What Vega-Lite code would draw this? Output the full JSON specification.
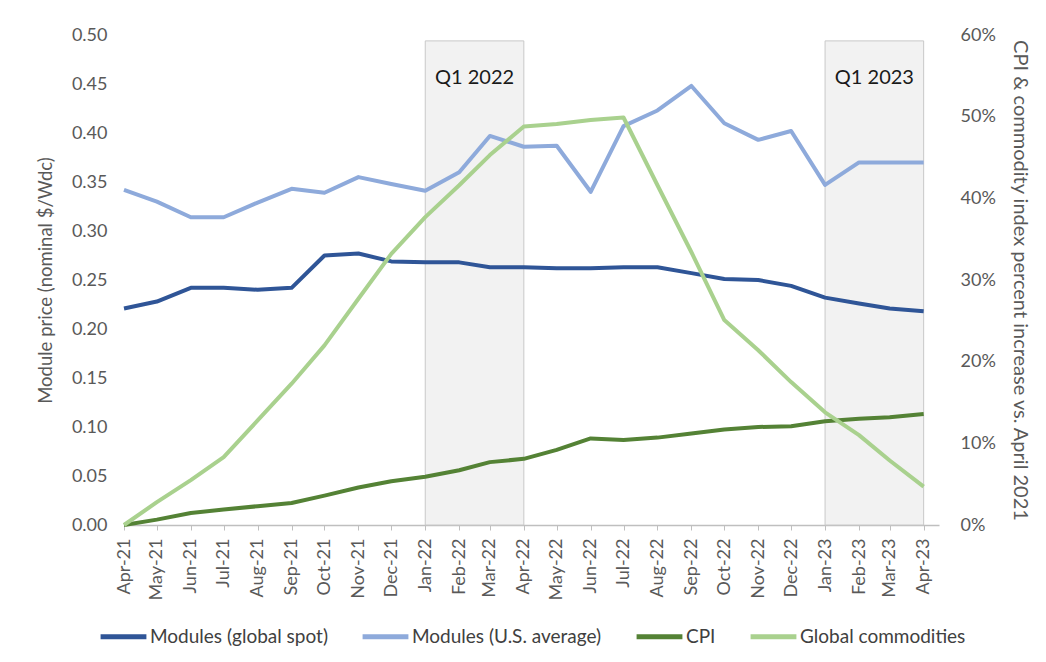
{
  "$schema": "https://vega.github.io/schema/vega-lite/v6.json",
  "width": 815,
  "height": 490,
  "autosize": "none",
  "padding": {"left": 124, "top": 35, "right": 107, "bottom": 137},
  "background": "white",
  "config": {
    "font": "Lato",
    "view": {"stroke": null},
    "axis": {"labelFont": "Lato", "titleFont": "Lato", "labelColor": "#595959", "titleColor": "#595959", "grid": false}
  },
  "datasets": {
    "modules": [
      {"date": "2021-04-01", "series": "Modules (global spot)", "value": 0.221},
      {"date": "2021-05-01", "series": "Modules (global spot)", "value": 0.228},
      {"date": "2021-06-01", "series": "Modules (global spot)", "value": 0.242},
      {"date": "2021-07-01", "series": "Modules (global spot)", "value": 0.242},
      {"date": "2021-08-01", "series": "Modules (global spot)", "value": 0.240},
      {"date": "2021-09-01", "series": "Modules (global spot)", "value": 0.242},
      {"date": "2021-10-01", "series": "Modules (global spot)", "value": 0.275},
      {"date": "2021-11-01", "series": "Modules (global spot)", "value": 0.277},
      {"date": "2021-12-01", "series": "Modules (global spot)", "value": 0.269},
      {"date": "2022-01-01", "series": "Modules (global spot)", "value": 0.268},
      {"date": "2022-02-01", "series": "Modules (global spot)", "value": 0.268},
      {"date": "2022-03-01", "series": "Modules (global spot)", "value": 0.263},
      {"date": "2022-04-01", "series": "Modules (global spot)", "value": 0.263},
      {"date": "2022-05-01", "series": "Modules (global spot)", "value": 0.262},
      {"date": "2022-06-01", "series": "Modules (global spot)", "value": 0.262},
      {"date": "2022-07-01", "series": "Modules (global spot)", "value": 0.263},
      {"date": "2022-08-01", "series": "Modules (global spot)", "value": 0.263},
      {"date": "2022-09-01", "series": "Modules (global spot)", "value": 0.257},
      {"date": "2022-10-01", "series": "Modules (global spot)", "value": 0.251},
      {"date": "2022-11-01", "series": "Modules (global spot)", "value": 0.250},
      {"date": "2022-12-01", "series": "Modules (global spot)", "value": 0.244},
      {"date": "2023-01-01", "series": "Modules (global spot)", "value": 0.232},
      {"date": "2023-02-01", "series": "Modules (global spot)", "value": 0.226},
      {"date": "2023-03-01", "series": "Modules (global spot)", "value": 0.221},
      {"date": "2023-04-01", "series": "Modules (global spot)", "value": 0.218},
      {"date": "2021-04-01", "series": "Modules (U.S. average)", "value": 0.342},
      {"date": "2021-05-01", "series": "Modules (U.S. average)", "value": 0.330},
      {"date": "2021-06-01", "series": "Modules (U.S. average)", "value": 0.314},
      {"date": "2021-07-01", "series": "Modules (U.S. average)", "value": 0.314},
      {"date": "2021-08-01", "series": "Modules (U.S. average)", "value": 0.329},
      {"date": "2021-09-01", "series": "Modules (U.S. average)", "value": 0.343},
      {"date": "2021-10-01", "series": "Modules (U.S. average)", "value": 0.339},
      {"date": "2021-11-01", "series": "Modules (U.S. average)", "value": 0.355},
      {"date": "2021-12-01", "series": "Modules (U.S. average)", "value": 0.348},
      {"date": "2022-01-01", "series": "Modules (U.S. average)", "value": 0.341},
      {"date": "2022-02-01", "series": "Modules (U.S. average)", "value": 0.360},
      {"date": "2022-03-01", "series": "Modules (U.S. average)", "value": 0.397},
      {"date": "2022-04-01", "series": "Modules (U.S. average)", "value": 0.386},
      {"date": "2022-05-01", "series": "Modules (U.S. average)", "value": 0.387},
      {"date": "2022-06-01", "series": "Modules (U.S. average)", "value": 0.340},
      {"date": "2022-07-01", "series": "Modules (U.S. average)", "value": 0.407},
      {"date": "2022-08-01", "series": "Modules (U.S. average)", "value": 0.423},
      {"date": "2022-09-01", "series": "Modules (U.S. average)", "value": 0.448},
      {"date": "2022-10-01", "series": "Modules (U.S. average)", "value": 0.410},
      {"date": "2022-11-01", "series": "Modules (U.S. average)", "value": 0.393},
      {"date": "2022-12-01", "series": "Modules (U.S. average)", "value": 0.402},
      {"date": "2023-01-01", "series": "Modules (U.S. average)", "value": 0.347},
      {"date": "2023-02-01", "series": "Modules (U.S. average)", "value": 0.370},
      {"date": "2023-03-01", "series": "Modules (U.S. average)", "value": 0.370},
      {"date": "2023-04-01", "series": "Modules (U.S. average)", "value": 0.370}
    ],
    "indices": [
      {"date": "2021-04-01", "series": "CPI", "value": 0.000},
      {"date": "2021-05-01", "series": "CPI", "value": 0.0066},
      {"date": "2021-06-01", "series": "CPI", "value": 0.0147},
      {"date": "2021-07-01", "series": "CPI", "value": 0.0189},
      {"date": "2021-08-01", "series": "CPI", "value": 0.023},
      {"date": "2021-09-01", "series": "CPI", "value": 0.027},
      {"date": "2021-10-01", "series": "CPI", "value": 0.036},
      {"date": "2021-11-01", "series": "CPI", "value": 0.046},
      {"date": "2021-12-01", "series": "CPI", "value": 0.0535},
      {"date": "2022-01-01", "series": "CPI", "value": 0.059},
      {"date": "2022-02-01", "series": "CPI", "value": 0.067},
      {"date": "2022-03-01", "series": "CPI", "value": 0.077},
      {"date": "2022-04-01", "series": "CPI", "value": 0.081},
      {"date": "2022-05-01", "series": "CPI", "value": 0.092},
      {"date": "2022-06-01", "series": "CPI", "value": 0.106},
      {"date": "2022-07-01", "series": "CPI", "value": 0.104},
      {"date": "2022-08-01", "series": "CPI", "value": 0.107},
      {"date": "2022-09-01", "series": "CPI", "value": 0.112},
      {"date": "2022-10-01", "series": "CPI", "value": 0.117},
      {"date": "2022-11-01", "series": "CPI", "value": 0.120},
      {"date": "2022-12-01", "series": "CPI", "value": 0.121},
      {"date": "2023-01-01", "series": "CPI", "value": 0.127},
      {"date": "2023-02-01", "series": "CPI", "value": 0.130},
      {"date": "2023-03-01", "series": "CPI", "value": 0.132},
      {"date": "2023-04-01", "series": "CPI", "value": 0.136},
      {"date": "2021-04-01", "series": "Global commodities", "value": 0.000},
      {"date": "2021-05-01", "series": "Global commodities", "value": 0.028},
      {"date": "2021-06-01", "series": "Global commodities", "value": 0.055},
      {"date": "2021-07-01", "series": "Global commodities", "value": 0.083},
      {"date": "2021-08-01", "series": "Global commodities", "value": 0.128},
      {"date": "2021-09-01", "series": "Global commodities", "value": 0.173},
      {"date": "2021-10-01", "series": "Global commodities", "value": 0.220},
      {"date": "2021-11-01", "series": "Global commodities", "value": 0.277},
      {"date": "2021-12-01", "series": "Global commodities", "value": 0.332},
      {"date": "2022-01-01", "series": "Global commodities", "value": 0.377},
      {"date": "2022-02-01", "series": "Global commodities", "value": 0.416},
      {"date": "2022-03-01", "series": "Global commodities", "value": 0.453},
      {"date": "2022-04-01", "series": "Global commodities", "value": 0.488},
      {"date": "2022-05-01", "series": "Global commodities", "value": 0.491},
      {"date": "2022-06-01", "series": "Global commodities", "value": 0.496},
      {"date": "2022-07-01", "series": "Global commodities", "value": 0.499},
      {"date": "2022-08-01", "series": "Global commodities", "value": 0.416},
      {"date": "2022-09-01", "series": "Global commodities", "value": 0.334},
      {"date": "2022-10-01", "series": "Global commodities", "value": 0.251},
      {"date": "2022-11-01", "series": "Global commodities", "value": 0.214},
      {"date": "2022-12-01", "series": "Global commodities", "value": 0.175},
      {"date": "2023-01-01", "series": "Global commodities", "value": 0.138},
      {"date": "2023-02-01", "series": "Global commodities", "value": 0.110},
      {"date": "2023-03-01", "series": "Global commodities", "value": 0.079},
      {"date": "2023-04-01", "series": "Global commodities", "value": 0.047}
    ],
    "quarters": [
      {"start": "2022-01-01", "end": "2022-04-01", "mid": "2022-02-15", "label": "Q1 2022", "top": 0.494},
      {"start": "2023-01-01", "end": "2023-04-01", "mid": "2023-02-15", "label": "Q1 2023", "top": 0.494}
    ]
  },
  "layer": [
    {
      "layer": [
        {
          "data": {"name": "quarters"},
          "mark": {"type": "rect", "fill": "#f2f2f2", "stroke": "#c8c8c8", "strokeWidth": 1},
          "encoding": {
            "x": {"field": "start", "type": "temporal", "scale": {"type": "utc", "domain": ["2021-04-01", "2023-04-15"]},
              "axis": {"title": null, "labelExpr": "utcFormat(datum.value, '%b-%y')", "tickCount": {"interval": "month", "step": 1},
                "labelAngle": 270, "labelAlign": "right", "labelBaseline": "middle", "labelFontSize": 18, "labelPadding": 8,
                "tickSize": 5, "tickColor": "#bfbfbf", "domainColor": "#bfbfbf", "domainWidth": 1.5, "labelOverlap": false, "labelFlush": false}},
            "x2": {"field": "end"},
            "y": {"field": "top", "type": "quantitative"},
            "y2": {"datum": 0}
          }
        },
        {
          "data": {"name": "quarters"},
          "mark": {"type": "text", "fontSize": 20, "color": "#1a1a1a", "font": "Lato"},
          "encoding": {
            "x": {"field": "mid", "type": "temporal"},
            "y": {"datum": 0.456, "type": "quantitative"},
            "text": {"field": "label"}
          }
        },
        {
          "data": {"name": "modules"},
          "mark": {"type": "line", "strokeWidth": 4, "strokeJoin": "round"},
          "encoding": {
            "x": {"field": "date", "type": "temporal"},
            "y": {"field": "value", "type": "quantitative", "scale": {"domain": [0, 0.5]},
              "axis": {"title": "Module price (nominal $/Wdc)", "format": ".2f", "values": [0, 0.05, 0.1, 0.15, 0.2, 0.25, 0.3, 0.35, 0.4, 0.45, 0.5],
                "labelFontSize": 18, "labelPadding": 17, "domain": false, "ticks": false, "titleFontSize": 18.5, "titleFontWeight": "normal", "titlePadding": 16}},
            "color": {"field": "series", "type": "nominal",
              "scale": {"domain": ["Modules (global spot)", "Modules (U.S. average)", "CPI", "Global commodities"], "range": ["#2f5597", "#8eaadb", "#548235", "#a9d18e"]},
              "legend": {"title": null, "orient": "none", "legendX": -26, "legendY": 576, "direction": "horizontal", "symbolType": "stroke",
                "symbolStrokeWidth": 5, "symbolSize": 2100, "labelFontSize": 19, "labelColor": "#404040", "labelFont": "Lato", "columnPadding": 24, "labelOffset": 1, "padding": 0, "labelLimit": 300}}
          }
        }
      ]
    },
    {
      "data": {"name": "indices"},
      "mark": {"type": "line", "strokeWidth": 4, "strokeJoin": "round"},
      "encoding": {
        "x": {"field": "date", "type": "temporal"},
        "y": {"field": "value", "type": "quantitative", "scale": {"domain": [0, 0.6]},
          "axis": {"orient": "right", "title": "CPI & commodity index percent increase vs. April 2021", "format": ".0%", "values": [0, 0.1, 0.2, 0.3, 0.4, 0.5, 0.6],
            "labelFontSize": 18, "labelPadding": 21, "domain": false, "ticks": false, "titleFontSize": 20, "titleFontWeight": "normal", "titlePadding": 14}},
        "color": {"field": "series", "type": "nominal"}
      }
    }
  ],
  "resolve": {"scale": {"y": "independent"}}
}
